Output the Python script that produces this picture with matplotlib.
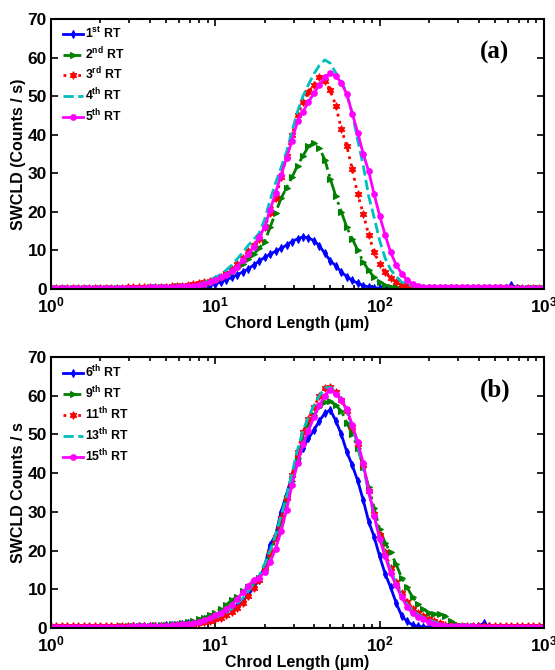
'''
SWCLD vs chord length, two panels (RT series)
'''

import numpy as np
import matplotlib
matplotlib.use("Agg")
import matplotlib.pyplot as plt

plt.rcParams['font.family'] = ['Liberation Sans', 'DejaVu Sans']
plt.rcParams['font.weight'] = 'bold'
plt.rcParams['mathtext.fontset'] = 'custom'
plt.rcParams['mathtext.rm'] = 'Liberation Sans:bold'
plt.rcParams['mathtext.bf'] = 'Liberation Sans:bold'
plt.rcParams['mathtext.it'] = 'Liberation Sans:bold'

# chord length channels (1 - 1000 um, 30 per decade)
chord = np.logspace(0, 3, 91)

# panel (a)
labels_a = [r'1$^{\mathbf{st}}$ RT', r'2$^{\mathbf{nd}}$ RT', r'3$^{\mathbf{rd}}$ RT',
            r'4$^{\mathbf{th}}$ RT', r'5$^{\mathbf{th}}$ RT']
rt1 = [0.1,0.1,0.1,0.1,0.1,0.1,0.1,0.1,0.1,0.1,
       0.1,0.1,0.1,0.1,0.1,0.1,0.1,0.1,0.2,0.2,
       0.2,0.3,0.3,0.4,0.5,0.6,0.7,0.8,0.9,1.1,
       1.3,1.8,2.4,3.0,3.7,4.4,5.2,6.2,7.2,8.2,
       9.0,9.8,10.5,11.4,12.3,13.0,13.5,13.3,12.5,11.2,
       9.2,7.3,6.0,4.4,3.2,2.2,1.5,0.9,0.5,0.3,
       0.2,0.2,0.1,0.1,0.1,0.1,0.1,0.1,0.1,0.1,
       0.1,0.1,0.1,0.1,0.1,0.1,0.1,0.1,0.1,0.1,
       0.1,0.1,0.1,0.2,1.0,0.2,0.1,0.1,0.1,0.1,0.1]
rt2 = [0.2,0.2,0.2,0.2,0.2,0.2,0.2,0.2,0.2,0.2,
       0.2,0.2,0.2,0.3,0.3,0.3,0.3,0.3,0.4,0.4,
       0.4,0.5,0.6,0.7,0.8,0.9,1.0,1.2,1.3,1.5,
       2.0,2.8,3.5,4.4,5.4,6.5,7.7,9.0,10.6,12.3,
       16.0,19.8,23.5,26.3,29.0,32.0,34.5,37.0,37.9,36.5,
       33.5,28.5,24.0,20.0,16.0,13.0,10.0,7.0,4.8,3.0,
       1.7,1.0,0.6,0.4,0.3,0.3,0.2,0.2,0.2,0.2,
       0.2,0.2,0.2,0.2,0.2,0.2,0.2,0.2,0.2,0.2,
       0.2,0.2,0.2,0.2,0.2,0.2,0.2,0.2,0.2,0.2,0.2]
rt3 = [0.3,0.3,0.3,0.3,0.3,0.3,0.3,0.3,0.3,0.3,
       0.3,0.3,0.3,0.3,0.4,0.4,0.4,0.4,0.4,0.5,
       0.5,0.6,0.7,0.8,0.9,1.1,1.3,1.5,1.8,2.1,
       2.5,3.2,4.2,5.3,6.6,8.0,9.8,11.3,13.0,16.0,
       19.6,23.5,29.0,34.5,40.0,45.0,48.5,51.0,53.0,55.0,
       54.0,51.5,47.5,41.5,37.0,31.0,24.5,19.5,14.0,9.5,
       6.5,4.3,2.8,1.8,1.0,0.7,0.5,0.4,0.3,0.3,
       0.3,0.3,0.3,0.3,0.3,0.3,0.3,0.3,0.3,0.3,
       0.3,0.3,0.3,0.3,0.3,0.3,0.3,0.3,0.3,0.3,0.3]
rt4 = [0.2,0.2,0.2,0.2,0.2,0.2,0.2,0.2,0.2,0.2,
       0.2,0.2,0.2,0.3,0.3,0.3,0.3,0.3,0.4,0.4,
       0.5,0.5,0.6,0.6,0.7,0.8,0.9,1.3,1.7,2.4,
       3.0,3.8,4.9,6.2,7.8,9.5,11.3,12.8,14.5,18.0,
       23.1,27.5,31.5,35.5,41.0,46.0,50.0,53.0,55.8,58.0,
       59.4,58.5,56.0,54.0,50.5,45.5,38.5,32.0,24.0,18.5,
       12.5,8.0,5.0,3.3,1.8,1.2,0.8,0.6,0.5,0.4,
       0.4,0.4,0.4,0.4,0.4,0.4,0.4,0.4,0.3,0.3,
       0.3,0.3,0.3,0.3,0.3,0.3,0.3,0.3,0.3,0.3,0.3]
rt5 = [0.2,0.2,0.2,0.2,0.2,0.2,0.2,0.2,0.2,0.2,
       0.2,0.2,0.2,0.3,0.3,0.3,0.3,0.3,0.4,0.4,
       0.4,0.5,0.6,0.6,0.7,0.8,0.9,1.1,1.4,1.9,
       2.4,3.0,3.7,4.6,5.8,7.5,9.0,11.0,13.5,16.0,
       20.5,25.0,29.5,34.0,38.5,43.5,46.0,48.5,50.7,53.0,
       55.0,55.9,55.2,53.5,50.5,45.5,40.5,35.0,30.5,24.5,
       19.0,14.0,9.5,6.3,4.0,2.3,1.3,0.8,0.6,0.6,
       0.6,0.5,0.5,0.5,0.5,0.5,0.5,0.4,0.4,0.4,
       0.4,0.4,0.4,0.4,0.3,0.3,0.3,0.3,0.3,0.3,0.3]

# panel (b)
labels_b = [r'6$^{\mathbf{th}}$ RT', r'9$^{\mathbf{th}}$ RT', r'11$^{\mathbf{th}}$ RT',
            r'13$^{\mathbf{th}}$ RT', r'15$^{\mathbf{th}}$ RT']
rt6 = [0.2,0.2,0.2,0.2,0.2,0.2,0.2,0.2,0.2,0.2,
       0.2,0.2,0.3,0.3,0.3,0.4,0.4,0.5,0.5,0.6,
       0.6,0.7,0.8,0.9,1.0,1.2,1.4,1.8,2.2,2.6,
       3.0,3.5,4.1,4.9,5.8,7.0,8.5,10.5,12.5,16.0,
       21.5,24.0,30.0,34.5,39.5,43.5,46.5,49.0,51.1,53.5,
       55.5,56.3,53.5,50.0,45.5,42.0,38.0,33.0,27.5,23.5,
       18.5,14.0,10.5,6.5,3.2,1.7,0.8,0.4,0.3,0.2,
       0.2,0.2,0.2,0.2,0.2,0.2,0.2,0.3,0.5,1.2,
       0.4,0.2,0.2,0.2,0.2,0.2,0.2,0.2,0.2,0.2,0.2]
rt9 = [0.3,0.3,0.3,0.3,0.3,0.3,0.3,0.3,0.3,0.3,
       0.3,0.3,0.3,0.4,0.4,0.4,0.5,0.5,0.6,0.7,
       0.8,0.9,1.0,1.1,1.3,1.5,1.8,2.2,2.7,3.3,
       4.0,5.0,6.0,7.2,8.1,9.5,10.5,11.5,13.0,15.5,
       19.0,23.0,27.5,33.5,38.0,44.0,49.0,52.5,55.0,57.0,
       58.3,58.5,57.5,56.0,53.0,50.0,46.5,41.5,36.5,31.0,
       25.5,22.0,19.5,16.5,13.0,10.5,8.0,6.2,4.8,4.0,
       3.7,3.5,3.2,1.8,1.0,0.6,0.4,0.4,0.3,0.3,
       0.3,0.3,0.3,0.3,0.3,0.3,0.3,0.3,0.3,0.3,0.3]
rt11 = [0.4,0.4,0.4,0.4,0.4,0.4,0.4,0.4,0.4,0.4,
        0.4,0.4,0.4,0.4,0.4,0.4,0.4,0.4,0.5,0.5,
        0.5,0.5,0.6,0.7,0.8,0.9,1.0,1.2,1.5,1.8,
        2.2,2.7,3.3,4.1,5.2,6.5,8.2,10.3,12.5,15.5,
        19.5,23.5,28.5,33.5,39.5,45.5,50.5,54.0,57.0,60.0,
        62.0,62.3,61.0,59.0,56.0,52.0,47.5,42.0,35.5,29.5,
        24.0,19.5,15.5,12.0,9.0,6.8,5.0,3.8,3.0,2.4,
        1.8,1.3,0.9,0.6,0.5,0.5,0.4,0.5,0.4,0.4,
        0.4,0.4,0.4,0.4,0.4,0.4,0.4,0.4,0.4,0.4,0.4]
rt13 = [0.3,0.3,0.3,0.3,0.3,0.3,0.3,0.3,0.3,0.3,
        0.3,0.3,0.3,0.3,0.3,0.4,0.4,0.4,0.5,0.5,
        0.5,0.6,0.7,0.8,0.9,1.1,1.3,1.5,1.8,2.2,
        2.7,3.3,4.0,5.0,6.2,7.7,9.5,11.5,13.5,16.5,
        20.0,24.0,29.0,34.0,40.0,46.0,51.0,54.5,57.5,60.0,
        62.0,62.2,61.0,59.0,56.0,52.0,47.0,41.5,35.0,29.0,
        23.5,19.0,15.0,11.5,8.5,6.2,4.6,3.5,2.7,2.1,
        1.6,1.1,0.8,0.6,0.5,0.4,0.4,0.4,0.3,0.3,
        0.3,0.3,0.3,0.3,0.3,0.3,0.3,0.3,0.3,0.3,0.3]
rt15 = [0.3,0.3,0.3,0.3,0.3,0.3,0.3,0.3,0.3,0.3,
        0.3,0.3,0.3,0.3,0.3,0.4,0.4,0.4,0.5,0.5,
        0.5,0.6,0.7,0.8,1.0,1.1,1.3,1.6,2.0,2.6,
        3.3,4.0,4.9,6.0,7.5,9.2,10.8,12.5,13.0,14.5,
        17.0,20.5,25.0,30.5,37.0,42.5,47.5,51.0,54.5,57.5,
        60.0,61.5,60.5,59.0,56.5,52.5,48.0,42.5,35.5,29.0,
        23.0,18.5,14.2,11.0,8.0,5.5,3.8,2.8,2.2,1.6,
        1.0,0.7,0.5,0.5,0.4,0.4,0.4,0.4,0.3,0.3,
        0.3,0.3,0.3,0.3,0.3,0.3,0.3,0.3,0.3,0.3,0.3]

# line styles, one per series slot
colors = [(0, 0, 1), (0, 0.5, 0), (1, 0, 0), (0, 0.75, 0.75), (1, 0, 1)]
lstyles = ['-', '-.', ':', '--', '-']
markers = ['d', '>', (6, 1, 0), None, 'o']
msizes = [4, 4, 5.5, 0, 4]

fig = plt.figure(figsize=(5.55, 6.7), dpi=100)
ax_a = fig.add_axes([0.0919, 0.5687, 0.8883, 0.4029])
ax_b = fig.add_axes([0.0919, 0.0627, 0.8883, 0.4045])

panels = [
    (ax_a, [rt1, rt2, rt3, rt4, rt5], labels_a, 'Chord Length (\u03bcm)', 'SWCLD (Counts / s)', '(a)'),
    (ax_b, [rt6, rt9, rt11, rt13, rt15], labels_b, 'Chrod Length (\u03bcm)', 'SWCLD Counts / s', '(b)'),
]

for ax, series, labels, xlab, ylab, tag in panels:
    for k, y in enumerate(series):
        ax.plot(chord, y, color=colors[k], ls=lstyles[k], lw=2,
                marker=markers[k], ms=msizes[k], mew=0.8, label=labels[k])
    ax.set_xscale('log')
    ax.set_xlim(1, 1000)
    ax.set_ylim(0, 70)
    ax.set_yticks(range(0, 71, 10))
    ax.set_xticks([1, 10, 100, 1000])
    ax.set_xticklabels([r'$\mathbf{10^{0}}$', r'$\mathbf{10^{1}}$',
                        r'$\mathbf{10^{2}}$', r'$\mathbf{10^{3}}$'])
    ax.tick_params(axis='both', which='both', direction='in', top=True, right=True,
                   labelsize=12.5, width=1.2)
    ax.tick_params(axis='both', which='major', length=5)
    ax.tick_params(axis='y', which='major', pad=3)
    ax.tick_params(axis='x', which='major', pad=5)
    ax.tick_params(axis='x', which='minor', length=3)
    for sp in ax.spines.values():
        sp.set_linewidth(1.5)
    ax.set_xlabel(xlab, size=11.5, weight='bold', labelpad=0)
    ax.set_ylabel(ylab, size=11.5, weight='bold', labelpad=1)
    ax.text(0.90, 0.877, tag, transform=ax.transAxes, ha='center', va='center',
            family='Liberation Serif', weight='bold', size=18)
    ax.legend(loc='upper left', bbox_to_anchor=(0.025, 0.975), frameon=False,
              prop={'size': 8.8, 'weight': 'bold'},
              handlelength=1.6, handletextpad=0.15, labelspacing=0.35,
              borderaxespad=0, borderpad=0)

plt.savefig("out.png", dpi=100)
